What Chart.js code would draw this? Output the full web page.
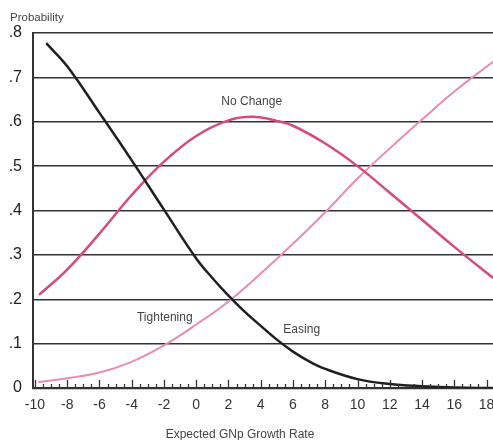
<!DOCTYPE html>
<html>
<head>
<meta charset="utf-8">
<script src="https://cdn.jsdelivr.net/npm/chart.js@4/dist/chart.umd.min.js"></script>
<style>
  html, body { margin: 0; padding: 0; background: #fff; }
  canvas { display: block; }
</style>
</head>
<body>
<canvas id="chart" width="493" height="440"></canvas>
<script>
const xTicks = [-10, -8, -6, -4, -2, 0, 2, 4, 6, 8, 10, 12, 14, 16, 18];
const yTicks = [0, 0.1, 0.2, 0.3, 0.4, 0.5, 0.6, 0.7, 0.8];
const yTickLabels = ["0", ".1", ".2", ".3", ".4", ".5", ".6", ".7", ".8"];

// Easing (black, falling)
const easingX = [-9.3, -8, -6, -4, -2, 0, 1, 2, 3, 4, 5, 6, 7, 8, 10, 12, 14, 16, 18.4];
const easingY = [0.777, 0.725, 0.62, 0.513, 0.402, 0.292, 0.248, 0.208, 0.172, 0.14, 0.109, 0.082, 0.06, 0.043, 0.02, 0.009, 0.004, 0.001, 0.0];

// No Change (magenta hump)
const noChangeX = [-9.75, -8, -6, -4, -2, 0, 2, 3.5, 5, 6, 8, 10, 12, 14, 16, 18.4];
const noChangeY = [0.21, 0.267, 0.348, 0.435, 0.51, 0.568, 0.603, 0.611, 0.602, 0.591, 0.551, 0.5, 0.44, 0.379, 0.318, 0.248];

// Tightening (light pink, rising)
const tightX = [-9.8, -8, -6, -4, -2, 0, 2, 4, 6, 8, 10, 12, 14, 16, 18.4];
const tightY = [0.013, 0.022, 0.035, 0.059, 0.096, 0.143, 0.195, 0.258, 0.325, 0.396, 0.472, 0.54, 0.605, 0.668, 0.735];

const curveLabels = [
  { text: "No Change", x: 3.44, y: 0.645 },
  { text: "Tightening", x: -1.95, y: 0.158 },
  { text: "Easing", x: 6.54, y: 0.131 }
];

const FONT = '"Liberation Sans", Arial, sans-serif';
const LINE_COLOR = "#333";

function toPoints(xs, ys) {
  return xs.map((v, i) => ({ x: v, y: ys[i] }));
}

// small tick marks pointing up from the x axis, plus the free text
const decor = {
  id: "decor",
  afterDatasetsDraw(chart) {
    const { ctx, chartArea, scales } = chart;
    const x = scales.x, y = scales.y;
    const base = y.getPixelForValue(0);
    ctx.save();
    ctx.strokeStyle = LINE_COLOR;
    ctx.lineWidth = 1.3;
    for (let i = 0; -10 + i * 0.5 <= x.max; i++) {
      const v = -10 + i * 0.5;
      const px = Math.round(x.getPixelForValue(v)) + 0.5;
      const len = i % 4 === 0 ? 8 : 4;
      ctx.beginPath();
      ctx.moveTo(px, base);
      ctx.lineTo(px, base - len);
      ctx.stroke();
    }

    ctx.fillStyle = "#444";
    ctx.font = "12px " + FONT;
    ctx.textAlign = "center";
    ctx.textBaseline = "middle";
    curveLabels.forEach(l => {
      ctx.fillText(l.text, x.getPixelForValue(l.x), y.getPixelForValue(l.y));
    });

    ctx.font = "11.5px " + FONT;
    ctx.textAlign = "left";
    ctx.fillText("Probability", 10, chartArea.top - 15);
    ctx.textAlign = "center";
    ctx.font = "12px " + FONT;
    ctx.fillText("Expected GNp Growth Rate", 240, 435);
    ctx.restore();
  }
};

new Chart(document.getElementById("chart"), {
  type: "line",
  data: {
    datasets: [
      {
        label: "Easing",
        data: toPoints(easingX, easingY),
        borderColor: "#1f1f1f",
        borderWidth: 2.5
      },
      {
        label: "No Change",
        data: toPoints(noChangeX, noChangeY),
        borderColor: "#d64a7e",
        borderWidth: 2.5
      },
      {
        label: "Tightening",
        data: toPoints(tightX, tightY),
        borderColor: "#ea8cae",
        borderWidth: 2
      }
    ]
  },
  options: {
    responsive: false,
    animation: false,
    events: [],
    layout: { padding: { top: 33, left: 0, right: 0, bottom: 0 } },
    elements: {
      point: { radius: 0 },
      line: { tension: 0.4, fill: false }
    },
    plugins: {
      legend: { display: false },
      tooltip: { enabled: false }
    },
    scales: {
      x: {
        type: "linear",
        min: -10.12,
        max: 18.4,
        afterBuildTicks: scale => {
          scale.ticks = xTicks.map(v => ({ value: v }));
        },
        afterFit: scale => {
          scale.paddingLeft = 0;
          scale.paddingRight = 0;
          scale.height = 52;
        },
        grid: { display: false, drawTicks: false },
        border: { display: false },
        ticks: {
          padding: 9,
          color: "#333",
          font: { family: FONT, size: 14 },
          maxRotation: 0,
          autoSkip: false
        }
      },
      y: {
        min: 0,
        max: 0.8,
        afterBuildTicks: scale => {
          scale.ticks = yTicks.map(v => ({ value: v }));
        },
        afterFit: scale => {
          scale.width = 33;
          scale.paddingTop = 0;
          scale.paddingBottom = 0;
        },
        grid: {
          color: LINE_COLOR,
          lineWidth: ctx => (ctx.tick && ctx.tick.value === 0 ? 2.2 : 1.5),
          drawTicks: false
        },
        border: { display: true, color: LINE_COLOR, width: 2 },
        ticks: {
          padding: 11,
          color: "#222",
          font: { family: FONT, size: 16 },
          callback: (v, i) => yTickLabels[i]
        }
      }
    }
  },
  plugins: [decor]
});
</script>
</body>
</html>
